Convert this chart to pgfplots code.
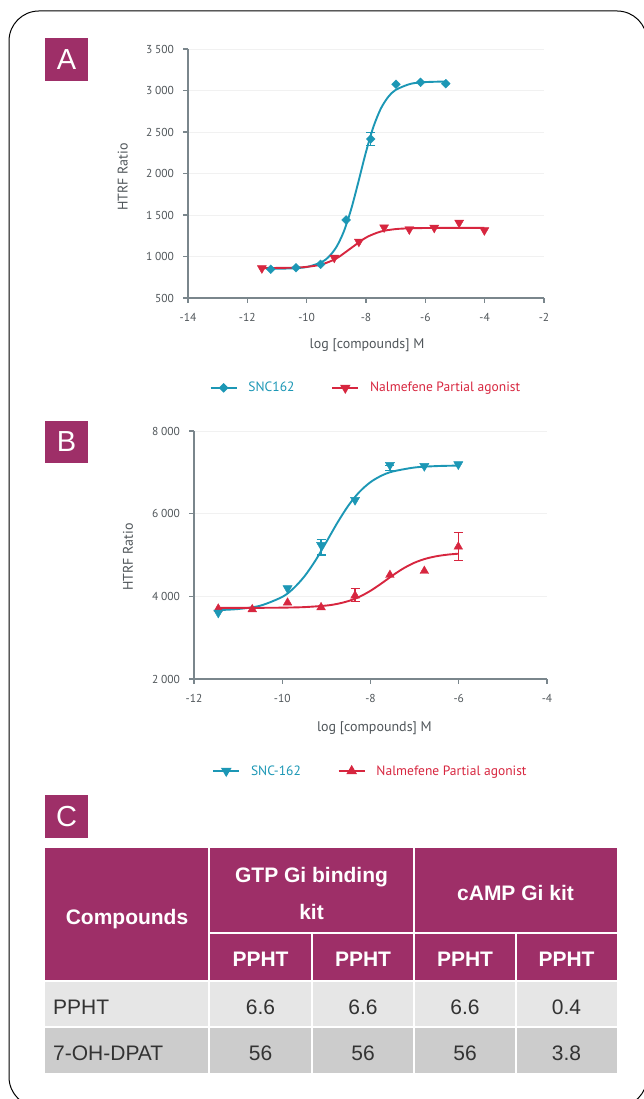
\documentclass[border=0pt]{standalone}
\usepackage{fontspec}
\setmainfont{Liberation Sans}
\newfontfamily\plotfont{PT Sans}
\usepackage{pgfplots}
\pgfplotsset{compat=1.18}
\definecolor{cteal}{HTML}{1C97B5}
\definecolor{cred}{HTML}{D7263F}
\definecolor{cmag}{HTML}{9E2F68}
\definecolor{caxis}{HTML}{7A868C}
\definecolor{ctick}{HTML}{50565A}
\definecolor{cgrid}{HTML}{F1F1F1}
\definecolor{rowa}{HTML}{E6E6E6}
\definecolor{rowb}{HTML}{CCCCCC}
\definecolor{ctext}{HTML}{333333}
\pgfplotsset{
  panel/.style={
    scale only axis,
    anchor=south west,
    axis x line*=bottom,
    axis y line*=left,
    axis line style={draw=caxis, line width=1.1pt},
    tick align=outside,
    major tick length=5pt,
    tick style={draw=caxis, line width=1.1pt},
    minor tick num=0,
    ymajorgrids,
    grid style={draw=cgrid, line width=0.8pt},
    /pgf/number format/assume math mode=true,
    /pgf/number format/1000 sep={\kern0.25em},
    scaled ticks=false,
    tick label style={font=\plotfont\fontsize{11.5}{13}\selectfont, text=ctick},
    xticklabel style={yshift=-7pt},
    yticklabel style={xshift=-5.5pt},
    label style={font=\plotfont\fontsize{14}{16}\selectfont, text=ctick},
    clip=false,
    legend style={draw=none, fill=none, font=\plotfont\fontsize{13.5}{16}\selectfont, legend columns=2,
      /tikz/every odd column/.append style={column sep=9pt},
      /tikz/every even column/.append style={column sep=35pt}},
    legend image code/.code={\draw[mark repeat=2,mark phase=2,##1] plot coordinates {(0pt,0pt) (13pt,0pt) (26pt,0pt)};},
  },
}
\begin{document}
\begin{tikzpicture}[x=1pt,y=1pt]
\useasboundingbox (0,0) rectangle (644,1099);
\begin{scope}
\clip (0,0) rectangle (644,1099);
\draw[black, line width=1pt, rounded corners=30pt] (9,-8) rectangle (647,1088);
\end{scope}
% label boxes
\fill[cmag] (45,1018.3) rectangle (88,1061.3);
\node[text=white, font=\fontsize{29}{30}\selectfont] at (66.5,1039.8) {A};
\fill[cmag] (45,636) rectangle (88,678);
\node[text=white, font=\fontsize{29}{30}\selectfont] at (66.5,657) {B};
\fill[cmag] (45,261) rectangle (88,304);
\node[text=white, font=\fontsize{29}{30}\selectfont] at (66.5,282.5) {C};

% ---------------- Panel A
\begin{axis}[panel, at={(188pt,801pt)}, width=356pt, height=249pt,
  xmin=-14, xmax=-2, ymin=500, ymax=3500,
  xtick={-14,-12,...,-2}, ytick={500,1000,...,3500},
  xlabel={log [compounds] M}, ylabel={HTRF Ratio},
  xlabel style={at={(axis description cs:0.503,-0.189)}, anchor=center},
  ylabel style={at={(axis description cs:-0.183,0.486)}, anchor=center},
  legend style={at={(0.5,-0.361)}, anchor=center},
]
\addplot[cteal, line width=1.9pt, smooth, forget plot] coordinates {
(-11.21,851) (-10.5,857) (-10,873) (-9.5,931) (-9.25,998) (-9,1113) (-8.75,1299)
(-8.5,1570) (-8.25,1908) (-8,2260) (-7.75,2562) (-7.5,2782) (-7.25,2923) (-7,3007)
(-6.5,3080) (-6,3101) (-5.31,3108)};
\addplot[cred, line width=1.9pt, smooth, forget plot] coordinates {
(-11.51,860) (-10.5,865) (-10,875) (-9.5,904) (-9,976) (-8.5,1102) (-8,1228)
(-7.5,1301) (-7,1330) (-6.5,1340) (-6,1343) (-5,1345) (-4.01,1345)};
\addplot[forget plot, draw=none, mark=none, error bars/.cd, y dir=both, y explicit,
  error bar style={draw=cteal, line width=1.2pt},
  error mark options={rotate=90, draw=cteal, line width=1.2pt, mark size=4.5pt}]
  coordinates {(-7.84,2416) +- (0,75)};
\addplot[forget plot, only marks, mark=square*, mark size=3.1pt,
  mark options={rotate=45, fill=cteal, draw=cteal}] coordinates {
(-11.21,846) (-10.36,865) (-9.53,906) (-8.67,1440) (-7.84,2416) (-6.99,3075) (-6.16,3099) (-5.31,3082)};
\addplot[forget plot, only marks, mark=triangle*, mark size=5.2pt,
  mark options={rotate=180, fill=cred, draw=cred}] coordinates {
(-11.51,858) (-9.07,986) (-8.24,1178) (-7.39,1351) (-6.54,1327) (-5.70,1347) (-4.86,1407) (-4.01,1316)};
\addlegendimage{cteal, line width=1.6pt, mark=square*, mark size=2.6pt, mark options={rotate=45, fill=cteal}}
\addlegendentry{\textcolor{cteal}{SNC162}}
\addlegendimage{cred, line width=1.6pt, mark=triangle*, mark size=4.5pt, mark options={rotate=180, fill=cred}}
\addlegendentry{\textcolor{cred}{Nalmefene Partial agonist}}
\end{axis}

% ---------------- Panel B
\begin{axis}[panel, at={(194pt,420pt)}, width=353pt, height=248pt,
  xmin=-12, xmax=-4, ymin=2000, ymax=8000,
  xtick={-12,-10,...,-4}, ytick={2000,4000,...,8000},
  xlabel={log [compounds] M}, ylabel={HTRF Ratio},
  xlabel style={at={(axis description cs:0.511,-0.198)}, anchor=center},
  ylabel style={at={(axis description cs:-0.187,0.492)}, anchor=center},
  legend style={at={(0.5,-0.371)}, anchor=center},
]
\addplot[cteal, line width=1.9pt, smooth, forget plot] coordinates {
(-11.45,3667) (-11,3693) (-10.5,3773) (-10,3986) (-9.75,4188) (-9.5,4479) (-9.25,4863)
(-9,5316) (-8.75,5781) (-8.5,6198) (-8.25,6527) (-8,6763) (-7.75,6920) (-7.5,7019)
(-7,7117) (-6.5,7151) (-6.01,7163)};
\addplot[cred, line width=1.9pt, smooth, forget plot] coordinates {
(-11.45,3720) (-10.5,3722) (-10,3726) (-9.5,3739) (-9,3777) (-8.75,3818) (-8.5,3886)
(-8.25,3989) (-8,4134) (-7.75,4313) (-7.5,4505) (-7.25,4678) (-7,4815) (-6.75,4910)
(-6.5,4971) (-6.25,5009) (-6.01,5031)};
\addplot[forget plot, draw=none, mark=none, error bars/.cd, y dir=both, y explicit,
  error bar style={draw=cteal, line width=1.2pt},
  error mark options={rotate=90, draw=cteal, line width=1.2pt, mark size=4.5pt}]
  coordinates {(-9.12,5190) +- (0,190) (-7.56,7100) +- (0,60)};
\addplot[forget plot, draw=none, mark=none, error bars/.cd, y dir=both, y explicit,
  error bar style={draw=cred, line width=1.2pt},
  error mark options={rotate=90, draw=cred, line width=1.2pt, mark size=4.5pt}]
  coordinates {(-8.35,4032) +- (0,162) (-6.01,5205) +- (0,345)};
\addplot[forget plot, only marks, mark=triangle*, mark size=5pt,
  mark options={fill=cred, draw=cred}] coordinates {
(-11.45,3700) (-10.68,3686) (-9.88,3846) (-9.12,3734) (-8.35,4016) (-7.56,4516) (-6.78,4613) (-6.01,5200)};
\addplot[forget plot, only marks, mark=triangle*, mark size=5.3pt,
  mark options={rotate=180, fill=cteal, draw=cteal}] coordinates {
(-11.45,3604) (-9.88,4194) (-9.12,5241) (-8.35,6330) (-7.56,7177) (-6.78,7152) (-6.01,7193)};
\addlegendimage{cteal, line width=1.6pt, mark=triangle*, mark size=4.5pt, mark options={rotate=180, fill=cteal}}
\addlegendentry{\textcolor{cteal}{SNC-162}}
\addlegendimage{cred, line width=1.6pt, mark=triangle*, mark size=4.5pt, mark options={fill=cred}}
\addlegendentry{\textcolor{cred}{Nalmefene Partial agonist}}
\end{axis}

% ---------------- Table C
\fill[cmag] (45,118) rectangle (617,251);
\fill[rowa] (45,72) rectangle (617,118);
\fill[rowb] (45,26) rectangle (617,72);
\begin{scope}[draw=white, line width=2.5pt]
\draw (209,26) -- (209,251);
\draw (414,26) -- (414,251);
\draw (312,26) -- (312,166);
\draw (516,26) -- (516,166);
\draw (209,166) -- (617,166);
\draw (45,118) -- (617,118);
\draw (45,72) -- (617,72);
\end{scope}
\begin{scope}[every node/.style={anchor=base, inner sep=0pt, text=white, font=\bfseries\fontsize{21}{25}\selectfont}]
\node at (127,174) {Compounds};
\node at (311.5,216.7) {GTP Gi binding};
\node at (311.5,179.7) {kit};
\node at (515.5,198) {cAMP Gi kit};
\node at (260.5,132.3) {PPHT};
\node at (363,132.3) {PPHT};
\node at (465,132.3) {PPHT};
\node at (566.5,132.3) {PPHT};
\end{scope}
\begin{scope}[every node/.style={anchor=base, inner sep=0pt, text=ctext, font=\fontsize{21}{25}\selectfont}]
\node[anchor=base west] at (53,84) {PPHT};
\node[anchor=base west] at (53,38.3) {7-OH-DPAT};
\node at (260.5,84) {6.6};
\node at (363,84) {6.6};
\node at (465,84) {6.6};
\node at (566.5,84) {0.4};
\node at (260.5,38.3) {56};
\node at (363,38.3) {56};
\node at (465,38.3) {56};
\node at (566.5,38.3) {3.8};
\end{scope}
\end{tikzpicture}
\end{document}
